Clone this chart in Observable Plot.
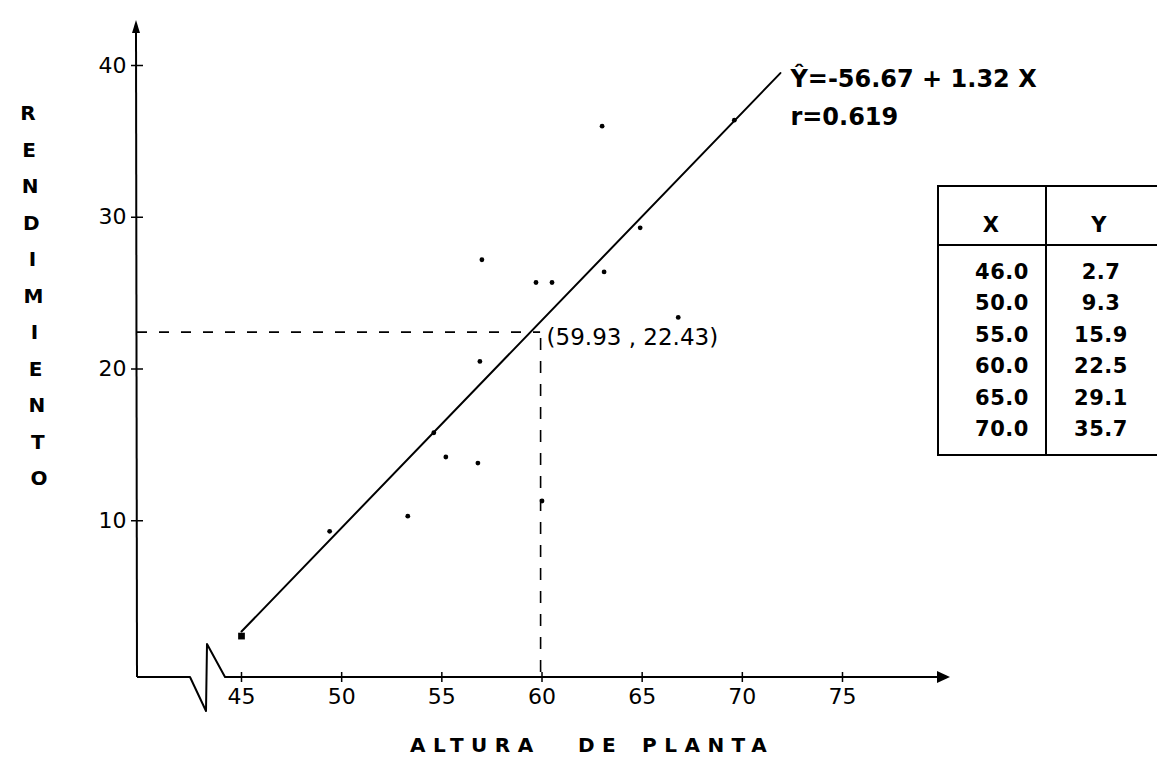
<!DOCTYPE html>
<html><head><meta charset="utf-8">
<script src="https://cdn.jsdelivr.net/npm/d3@7"></script>
<script src="https://cdn.jsdelivr.net/npm/@observablehq/plot@0.6"></script>
<style>
html,body{margin:0;padding:0;background:#fff;}
#wrap{position:relative;width:1157px;height:757px;overflow:hidden;font-family:"DejaVu Sans",sans-serif;color:#000;}
#tbl{position:absolute;left:937px;top:185px;width:225px;height:271px;border:2px solid #000;border-right:none;box-sizing:border-box;}
#tbl .hline{position:absolute;left:0;right:0;top:57px;border-top:2px solid #000;}
#tbl .vline{position:absolute;top:0;bottom:0;left:106px;border-left:2px solid #000;}
#tbl .cell{position:absolute;font-weight:bold;font-size:21px;line-height:22px;text-align:center;letter-spacing:0.5px;}
</style></head><body><div id="wrap"></div>
<script>
// Scatter data
const altura = [45.0, 49.4, 53.3, 54.6, 55.2, 56.8, 56.9, 57.0, 59.7, 60.5, 60.0, 63.0, 63.1, 64.9, 66.8, 69.6];
const rendimiento = [2.4, 9.3, 10.3, 15.8, 14.2, 13.8, 20.5, 27.2, 25.7, 25.7, 11.3, 36.0, 26.4, 29.3, 23.4, 36.4];
// Regression line ends as drawn
const lineX = [45, 71.9];
const lineY = [2.7, 39.5];
// Mean point
const meanX = [59.93];
const meanY = [22.43];
const meanLabel = ["(59.93 , 22.43)"];
const xTicks = [45, 50, 55, 60, 65, 70, 75];
const yTicks = [10, 20, 30, 40];
const tableX = ["46.0", "50.0", "55.0", "60.0", "65.0", "70.0"];
const tableY = ["2.7", "9.3", "15.9", "22.5", "29.1", "35.7"];
const tableHeader = ["X", "Y"];
const equation = ["Ŷ=-56.67 + 1.32 X"];
const rText = ["r=0.619"];
const xLabelWords = ["ALTURA", "DE", "PLANTA"];
const yLabel = "RENDIMIENTO";

const W = 1157, H = 757, mL = 137, mB = 80;
const xDomain = [45, 75], xRange = [241, 842];
// x value sitting on the (broken) vertical axis
const xAtAxis = xDomain[0] - (xRange[0] - mL) * (xDomain[1] - xDomain[0]) / (xRange[1] - xRange[0]);
const plot = Plot.plot({
  width: W, height: H,
  marginLeft: mL, marginBottom: mB, marginTop: 0, marginRight: 0,
  x: {domain: xDomain, range: xRange},
  y: {domain: [0, 40], range: [672, 65]},
  style: {fontFamily: "DejaVu Sans, sans-serif", fontSize: "22px", color: "#000", background: "#fff", overflow: "visible"},
  marks: [
    Plot.ruleY(meanY, {y: d => d, x1: [xAtAxis], x2: meanX, stroke: "#000", strokeWidth: 1.6, strokeDasharray: "10,12"}),
    Plot.ruleX(meanX, {x: d => d, y1: meanY, stroke: "#000", strokeWidth: 1.6, strokeDasharray: "12,11"}),
    Plot.line(lineX, {x: lineX, y: lineY, stroke: "#000", strokeWidth: 2}),
    Plot.dot(altura, {x: altura, y: rendimiento, r: 2.4, fill: "#000", stroke: null}),
    Plot.dot([lineX[0]], {x: [lineX[0]], y: [rendimiento[0]], r: 3.8, symbol: "square", fill: "#000"}),
    Plot.text(meanLabel, {x: meanX, y: meanY, text: d => d, textAnchor: "start", dx: 6, dy: 6, fontSize: 23}),
    Plot.text(equation, {x: [lineX[1]], y: [lineY[1]], text: d => d, textAnchor: "start", dx: 10, dy: 6, fontWeight: "bold", fontSize: 24}),
    Plot.text(rText, {x: [lineX[1]], y: [lineY[1]], text: d => d, textAnchor: "start", dx: 10, dy: 44, fontWeight: "bold", fontSize: 24}),
    Plot.axisX(xTicks, {tickSize: 10, dy: -5, tickPadding: 6, strokeWidth: 1.5, tickFormat: d => String(d)}),
    Plot.axisY(yTicks, {tickSize: 12, dx: 6, tickPadding: 5, strokeWidth: 1.5, tickFormat: d => String(d)})
  ]
});

const svg = d3.select(plot);
const ox = mL, oy = H - mB;
const xs = plot.scale("x"), ys = plot.scale("y");
const g = svg.append("g").attr("fill", "none").attr("stroke", "#000").attr("stroke-width", 2);
// Y axis line with arrow
const yTop = ys.apply(40) - 42;
g.append("path").attr("d", `M${ox},${oy}L${ox - 1},${yTop + 8}`);
svg.append("path").attr("d", `M${ox - 1},${yTop - 3}L${ox - 5},${yTop + 10}L${ox + 3},${yTop + 10}Z`).attr("fill", "#000");
// X axis with break and arrow
const xEnd = xs.apply(75) + 98;
g.append("path").attr("d", `M${ox},${oy}L${ox + 53},${oy}L${ox + 69},${oy + 34}L${ox + 70},${oy - 33}L${ox + 88},${oy}L${xEnd},${oy}`).attr("stroke-linejoin", "round");
svg.append("path").attr("d", `M${xEnd + 10},${oy}L${xEnd - 3},${oy - 6}L${xEnd - 3},${oy + 6}Z`).attr("fill", "#000");
// Y label, letter by letter
const letters = yLabel.split("");
svg.append("g").attr("font-weight", "bold").attr("font-size", 20).attr("text-anchor", "middle")
  .selectAll("text").data(letters).join("text")
  .attr("x", (d, i) => 28 + i * 1.1)
  .attr("y", (d, i) => 120 + i * 36.5)
  .text(d => d);
// X label, word by word
const wordStarts = [410, 578, 642];
svg.append("g").attr("font-weight", "bold").attr("font-size", 20).attr("text-anchor", "start").attr("letter-spacing", 7.5)
  .selectAll("text").data(xLabelWords).join("text")
  .attr("x", (d, i) => wordStarts[i]).attr("y", 752).text(d => d);

const wrap = document.getElementById("wrap");
wrap.appendChild(plot);

// Table
const tbl = d3.select(wrap).append("div").attr("id", "tbl");
tbl.append("div").attr("class", "hline");
tbl.append("div").attr("class", "vline");
tbl.append("div").attr("class", "cell").style("left", "0px").style("width", "104px").style("top", "27px").text(tableHeader[0]);
tbl.append("div").attr("class", "cell").style("left", "108px").style("width", "104px").style("top", "27px").text(tableHeader[1]);
tableX.forEach((v, i) => {
  const top = 74 + i * 31.4;
  tbl.append("div").attr("class", "cell").style("left", "30px").style("width", "66px").style("top", top + "px").text(v);
  tbl.append("div").attr("class", "cell").style("left", "130px").style("width", "64px").style("top", top + "px").text(tableY[i]);
});
</script></body></html>
